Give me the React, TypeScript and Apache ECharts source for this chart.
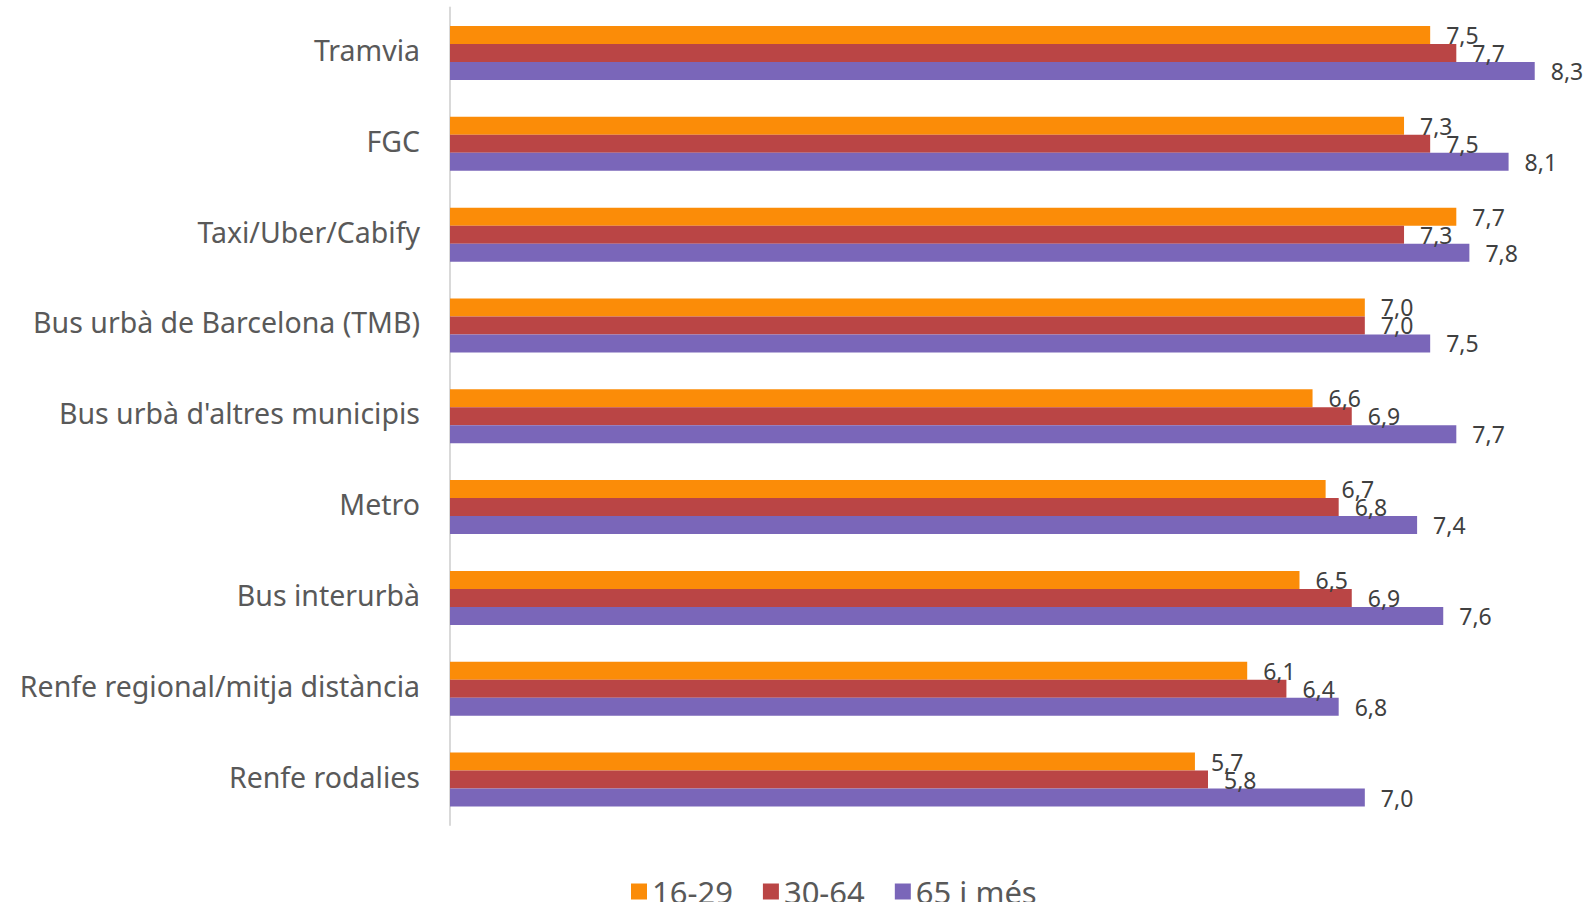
import React, { useEffect, useRef } from "react";
import * as echarts from "echarts";

const categories = [
  "Tramvia",
  "FGC",
  "Taxi/Uber/Cabify",
  "Bus urbà de Barcelona (TMB)",
  "Bus urbà d'altres municipis",
  "Metro",
  "Bus interurbà",
  "Renfe regional/mitja distància",
  "Renfe rodalies",
];

const seriesNames = ["16-29", "30-64", "65 i més"];

const values1629 = [7.5, 7.3, 7.7, 7.0, 6.6, 6.7, 6.5, 6.1, 5.7];
const values3064 = [7.7, 7.5, 7.3, 7.0, 6.9, 6.8, 6.9, 6.4, 5.8];
const values65 = [8.3, 8.1, 7.8, 7.5, 7.7, 7.4, 7.6, 6.8, 7.0];

const colors = ["#FB8C08", "#BA4545", "#7A66B9"];

const FONT = "'Noto Sans', sans-serif";

export default function App() {
  const ref = useRef<HTMLDivElement>(null);

  useEffect(() => {
    if (!ref.current) return;
    const chart = echarts.init(ref.current, null, { renderer: "svg" });
    const allValues = [values1629, values3064, values65];
    chart.setOption({
      animation: false,
      backgroundColor: "#ffffff",
      textStyle: { fontFamily: FONT },
      grid: {
        left: 450,
        right: 9,
        top: 7.6,
        bottom: 77,
        outerBoundsMode: "none",
        containLabel: false,
      },
      legend: {
        data: seriesNames,
        left: 631,
        top: 876,
        padding: 0,
        itemWidth: 16,
        itemHeight: 16,
        itemGap: 30,
        icon: "rect",
        textStyle: {
          fontFamily: FONT,
          fontSize: 31,
          color: "#595959",
          lineHeight: 22,
        },
      },
      xAxis: {
        type: "value",
        min: 0,
        max: 8.7,
        show: false,
        splitLine: { show: false },
      },
      yAxis: {
        type: "category",
        data: categories,
        inverse: true,
        axisLine: { show: true, lineStyle: { color: "#d9d9d9", width: 2 } },
        axisTick: { show: false },
        axisLabel: {
          fontFamily: FONT,
          fontSize: 28.5,
          color: "#595959",
          margin: 30,
          verticalAlign: "bottom",
          lineHeight: 6,
        },
      },
      series: seriesNames.map((name, i) => ({
        name,
        type: "bar",
        data: allValues[i],
        barWidth: 18,
        barGap: "0%",
        itemStyle: { color: colors[i] },
        label: {
          show: true,
          position: "right",
          distance: 16,
          fontFamily: FONT,
          fontSize: 23,
          color: "#404040",
          padding: [0, 0, 3, 0],
          formatter: (p: any) => Number(p.value).toFixed(1).replace(".", ","),
        },
      })),
    });
    return () => chart.dispose();
  }, []);

  return (
    <div
      ref={ref}
      style={{ position: "fixed", left: 0, top: 0, width: 1596, height: 902 }}
    />
  );
}
